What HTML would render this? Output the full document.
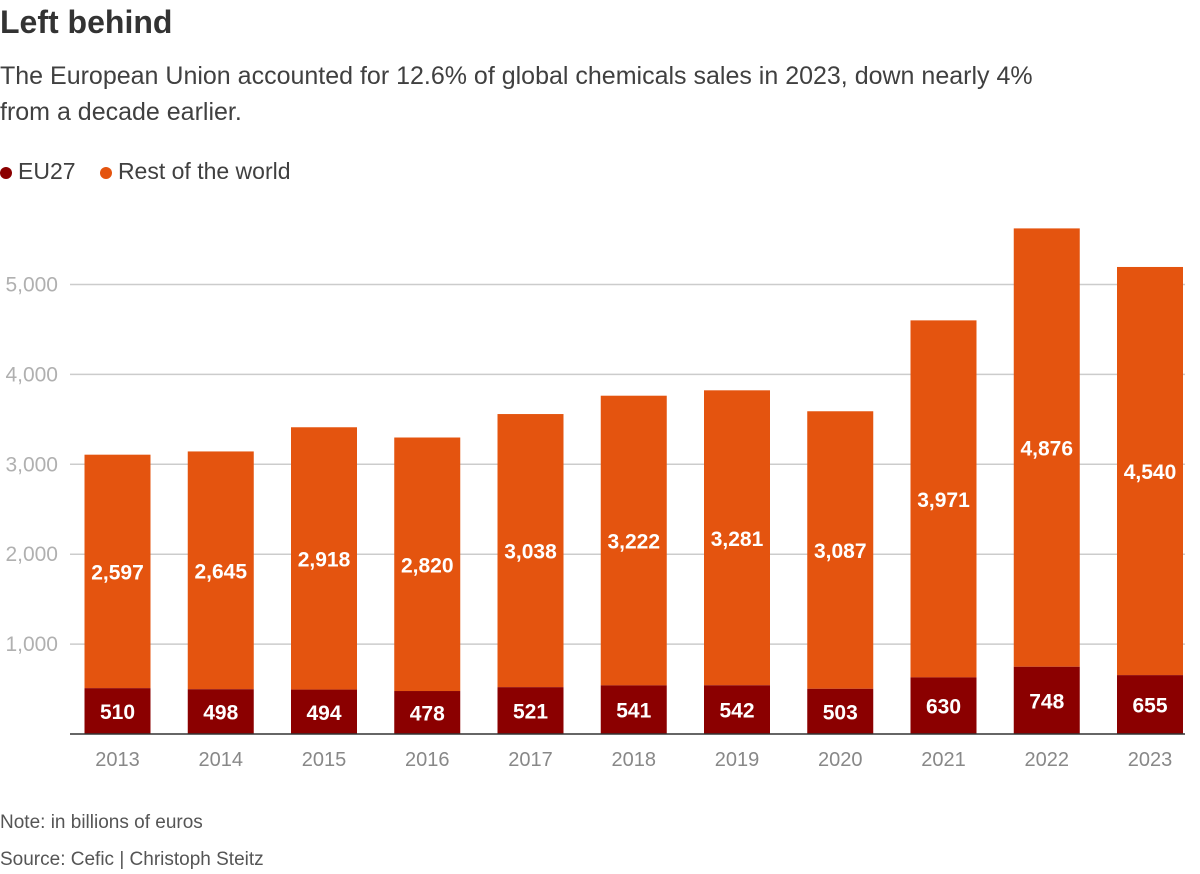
<!DOCTYPE html>
<html><head><meta charset="utf-8"><style>
body{margin:0;width:1200px;height:874px;background:#fff;font-family:"Liberation Sans",sans-serif;overflow:hidden;position:relative}
.t{position:absolute;left:0;margin:0}
</style></head><body>
<h1 class="t" style="top:4px;font-size:32px;font-weight:bold;color:#333">Left behind</h1>
<p class="t" style="top:58px;font-size:25px;line-height:36px;color:#404040;width:1045px">The European Union accounted for 12.6% of global chemicals sales in 2023, down nearly 4% from a decade earlier.</p>
<div class="t" style="top:158px;font-size:23px;color:#404040">
<span><span style="display:inline-block;width:12px;height:12px;border-radius:50%;background:#8b0000;margin-right:6px"></span>EU27</span>
<span style="margin-left:18px"><span style="display:inline-block;width:12px;height:12px;border-radius:50%;background:#e4540f;margin-right:6px"></span>Rest of the world</span>
</div>
<svg id="c" width="1200" height="874" style="position:absolute;left:0;top:0"></svg>
<p class="t" style="top:812px;font-size:19px;color:#555">Note: in billions of euros</p>
<p class="t" style="top:849px;font-size:19px;color:#555">Source: Cefic | Christoph Steitz</p>
<script>
const years=["2013","2014","2015","2016","2017","2018","2019","2020","2021","2022","2023"];
const eu=[510,498,494,478,521,541,542,503,630,748,655];
const rest=[2597,2645,2918,2820,3038,3222,3281,3087,3971,4876,4540];
const ticks=[1000,2000,3000,4000,5000];
const tickLabels=["1,000","2,000","3,000","4,000","5,000"];
const NS="http://www.w3.org/2000/svg",svg=document.getElementById('c');
const y=v=>734-v*0.0899, x=i=>117.5+i*103.25, bw=66;
function mk(t,a,txt){const e=document.createElementNS(NS,t);for(const k in a)e.setAttribute(k,a[k]);if(txt!=null)e.textContent=txt;svg.appendChild(e);return e;}
const fmt=v=>v.toLocaleString('en-US');
ticks.forEach((t,i)=>{
const g=mk('line',{x1:70,x2:1185,y1:y(t),y2:y(t),stroke:'#ccc','stroke-width':1.5});


const l=mk('text',{x:58,y:y(t)+7,'text-anchor':'end','font-size':21,fill:'#b0b0b0','font-family':'Liberation Sans'},tickLabels[i]);


});
years.forEach((yr,i)=>{
const cx=x(i);
const r=mk('rect',{x:cx-bw/2,y:y(eu[i]+rest[i]),width:bw,height:y(eu[i])-y(eu[i]+rest[i]),fill:'#e4540f'});


const e=mk('rect',{x:cx-bw/2,y:y(eu[i]),width:bw,height:y(0)-y(eu[i]),fill:'#8b0000'});


const t1=mk('text',{x:cx,y:(y(0)+y(eu[i]))/2+8,'text-anchor':'middle','font-size':21,'font-weight':'bold',fill:'#fff','font-family':'Liberation Sans'},fmt(eu[i]));


const t2=mk('text',{x:cx,y:(y(eu[i])+y(eu[i]+rest[i]))/2+8,'text-anchor':'middle','font-size':21,'font-weight':'bold',fill:'#fff','font-family':'Liberation Sans'},fmt(rest[i]));


const xl=mk('text',{x:cx,y:766,'text-anchor':'middle','font-size':20,fill:'#888','font-family':'Liberation Sans'},yr);


});
const ax=mk('line',{x1:70,x2:1185,y1:734,y2:734,stroke:'#333','stroke-width':1.5});


</script>
</body></html>
